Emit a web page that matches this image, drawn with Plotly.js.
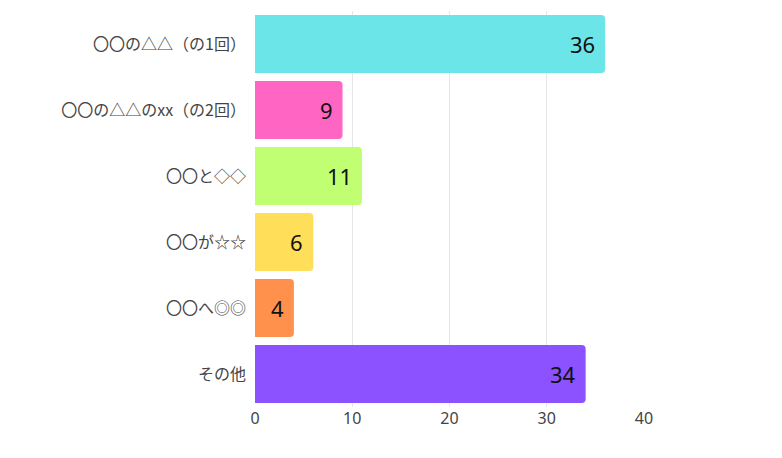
<!DOCTYPE html>
<html>
<head>
<meta charset="utf-8">
<script src="https://cdn.plot.ly/plotly-3.0.1.min.js"></script>
<style>html,body{margin:0;padding:0;background:#fff;}#chart{width:782px;height:458px;}</style>
</head>
<body>
<div id="chart"></div>
<script>
var categories = ["〇〇の△△（の1回）", "〇〇の△△のxx（の2回）", "〇〇と◇◇", "〇〇が☆☆", "〇〇へ◎◎", "その他"];
var values = [36, 9, 11, 6, 4, 34];
var colors = ["#6ce5e8", "#ff66c4", "#c1ff72", "#ffde59", "#ff914d", "#8c52ff"];
var xTicks = [0, 10, 20, 30, 40];

var trace = {
  type: "bar",
  orientation: "h",
  x: values,
  y: categories,
  marker: {color: colors, line: {width: 0}},
  hoverinfo: "none"
};

var annotations = values.map(function (v, i) {
  return {
    x: v, y: categories[i], xref: "x", yref: "y",
    text: String(v), showarrow: false,
    xanchor: "right", yanchor: "middle", xshift: -8,
    font: {family: "'Noto Sans', sans-serif", size: 22, color: "#111"}
  };
});

var layout = {
  width: 782, height: 458,
  margin: {l: 255, r: 138, t: 11, b: 51},
  paper_bgcolor: "#fff", plot_bgcolor: "#fff",
  showlegend: false,
  bargap: 0.12,
  barcornerradius: 4,
  xaxis: {
    range: [0, 40], tickvals: xTicks, ticktext: xTicks.map(String),
    showgrid: true, gridcolor: "#e6e6e6", gridwidth: 1,
    zeroline: false, showline: false,
    ticks: "", ticklabelstandoff: 0,
    tickfont: {family: "'Noto Sans', 'Noto Sans CJK JP', sans-serif", size: 16, color: "#444"},
    fixedrange: true
  },
  yaxis: {
    autorange: "reversed",
    showgrid: false, zeroline: false, showline: false,
    ticks: "", ticklabelstandoff: 8,
    tickfont: {family: "'Noto Sans CJK JP', sans-serif", size: 16, color: "#444"},
    fixedrange: true
  },
  annotations: annotations
};

Plotly.newPlot("chart", [trace], layout, {displayModeBar: false, staticPlot: true});
</script>
</body>
</html>
